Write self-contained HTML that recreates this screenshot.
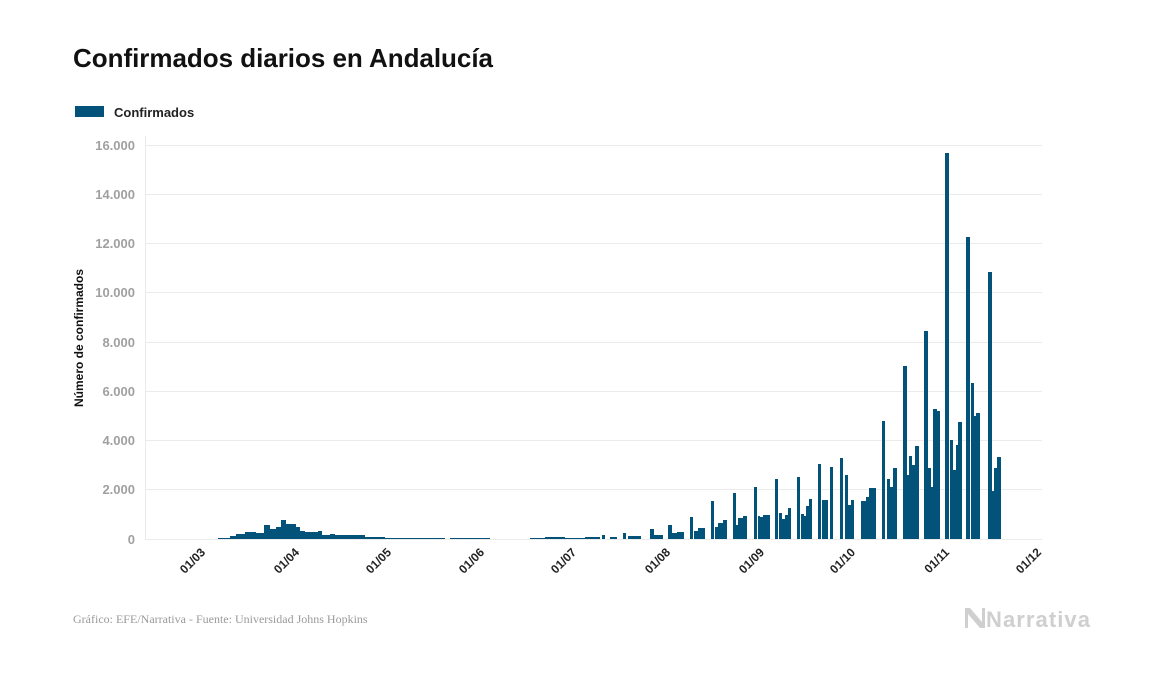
<!DOCTYPE html>
<html><head><meta charset="utf-8"><style>
html,body{margin:0;padding:0;background:#fff;}
svg{display:block;font-family:"Liberation Sans",sans-serif;}
</style></head><body>
<svg width="1157" height="674" viewBox="0 0 1157 674" xmlns="http://www.w3.org/2000/svg">
<text x="73" y="67" font-size="26" font-weight="bold" fill="#111" textLength="420">Confirmados diarios en Andalucía</text>
<rect x="75" y="106" width="29" height="11" fill="#02527a"/>
<text x="114" y="117" font-size="13" font-weight="bold" fill="#222">Confirmados</text>
<g stroke="#ebebeb" stroke-width="1">
<line x1="145" x2="1042" y1="145.5" y2="145.5"/><line x1="145" x2="1042" y1="194.5" y2="194.5"/>
<line x1="145" x2="1042" y1="243.5" y2="243.5"/><line x1="145" x2="1042" y1="292.5" y2="292.5"/>
<line x1="145" x2="1042" y1="342.5" y2="342.5"/><line x1="145" x2="1042" y1="391.5" y2="391.5"/>
<line x1="145" x2="1042" y1="440.5" y2="440.5"/><line x1="145" x2="1042" y1="489.5" y2="489.5"/>
<line x1="145" x2="1042" y1="539.5" y2="539.5"/><line x1="145.5" x2="145.5" y1="136" y2="539"/>
</g>
<g font-size="13" font-weight="bold" fill="#a0a0a0" text-anchor="end">
<text x="135" y="150">16.000</text><text x="135" y="199">14.000</text><text x="135" y="248">12.000</text>
<text x="135" y="297">10.000</text><text x="135" y="347">8.000</text><text x="135" y="396">6.000</text>
<text x="135" y="445">4.000</text><text x="135" y="494">2.000</text><text x="135" y="544">0</text>
</g>
<text transform="translate(83,338) rotate(-90)" font-size="12" font-weight="bold" fill="#111" text-anchor="middle">Número de confirmados</text>
<g fill="#02527a">
<rect x="218" y="538" width="12" height="1"/>
<rect x="230" y="536" width="6" height="3"/>
<rect x="236" y="534" width="9" height="5"/>
<rect x="245" y="532" width="7" height="7"/>
<rect x="252" y="532" width="4" height="7"/>
<rect x="256" y="533" width="8" height="6"/>
<rect x="264" y="525" width="6" height="14"/>
<rect x="270" y="529" width="6" height="10"/>
<rect x="276" y="527" width="5" height="12"/>
<rect x="281" y="520" width="5" height="19"/>
<rect x="286" y="524" width="10" height="15"/>
<rect x="296" y="527" width="4" height="12"/>
<rect x="300" y="531" width="5" height="8"/>
<rect x="305" y="532" width="13" height="7"/>
<rect x="318" y="531" width="4" height="8"/>
<rect x="322" y="535" width="8" height="4"/>
<rect x="330" y="534" width="5" height="5"/>
<rect x="335" y="535" width="30" height="4"/>
<rect x="365" y="537" width="20" height="2"/>
<rect x="385" y="538" width="60" height="1"/>
<rect x="450" y="538" width="40" height="1"/>
<rect x="530" y="538" width="70" height="1"/>
<rect x="545" y="537" width="20" height="2"/>
<rect x="585" y="537" width="15" height="2"/>
<rect x="602" y="535" width="3" height="4"/><rect x="610" y="537" width="7" height="2"/>
<rect x="623" y="533" width="3" height="6"/><rect x="628" y="536" width="13" height="3"/>
<rect x="650" y="529" width="4" height="10"/><rect x="654" y="535" width="9" height="4"/>
<rect x="668" y="525" width="4" height="14"/><rect x="672" y="533" width="5" height="6"/><rect x="677" y="532" width="7" height="7"/>
<rect x="690" y="517" width="3" height="22"/><rect x="694" y="531" width="4" height="8"/><rect x="698" y="528" width="7" height="11"/>
<rect x="711" y="501" width="3" height="38"/><rect x="715" y="527" width="3" height="12"/><rect x="718" y="523" width="5" height="16"/><rect x="723" y="520" width="4" height="19"/>
<rect x="733" y="493" width="3" height="46"/><rect x="736" y="525" width="2" height="14"/><rect x="738" y="518" width="5" height="21"/><rect x="743" y="516" width="4" height="23"/>
<rect x="754" y="487" width="3" height="52"/><rect x="758" y="516" width="2" height="23"/><rect x="760" y="517" width="3" height="22"/><rect x="763" y="515" width="7" height="24"/>
<rect x="775" y="479" width="3" height="60"/><rect x="779" y="513" width="3" height="26"/><rect x="782" y="519" width="3" height="20"/><rect x="785" y="515" width="3" height="24"/><rect x="788" y="508" width="3" height="31"/>
<rect x="797" y="477" width="3" height="62"/><rect x="801" y="514" width="3" height="25"/><rect x="804" y="516" width="2" height="23"/><rect x="806" y="506" width="3" height="33"/><rect x="809" y="499" width="3" height="40"/>
<rect x="818" y="464" width="3" height="75"/><rect x="822" y="500" width="6" height="39"/>
<rect x="830" y="467" width="3" height="72"/>
<rect x="840" y="458" width="3" height="81"/><rect x="845" y="475" width="3" height="64"/><rect x="848" y="505" width="3" height="34"/><rect x="851" y="500" width="3" height="39"/>
<rect x="861" y="501" width="5" height="38"/><rect x="866" y="497" width="3" height="42"/><rect x="869" y="488" width="3" height="51"/><rect x="872" y="488" width="4" height="51"/>
<rect x="882" y="421" width="3" height="118"/>
<rect x="887" y="479" width="3" height="60"/><rect x="890" y="487" width="3" height="52"/><rect x="893" y="468" width="4" height="71"/>
<rect x="903" y="366" width="4" height="173"/><rect x="907" y="475" width="2" height="64"/><rect x="909" y="456" width="3" height="83"/><rect x="912" y="465" width="3" height="74"/><rect x="915" y="446" width="4" height="93"/>
<rect x="924" y="331" width="4" height="208"/><rect x="928" y="468" width="3" height="71"/><rect x="931" y="487" width="2" height="52"/><rect x="933" y="409" width="4" height="130"/><rect x="937" y="411" width="3" height="128"/>
<rect x="945" y="153" width="4" height="386"/><rect x="950" y="440" width="3" height="99"/><rect x="953" y="470" width="3" height="69"/><rect x="956" y="445" width="2" height="94"/><rect x="958" y="422" width="4" height="117"/>
<rect x="966" y="237" width="4" height="302"/><rect x="971" y="383" width="3" height="156"/><rect x="974" y="416" width="2" height="123"/><rect x="976" y="413" width="4" height="126"/>
<rect x="988" y="272" width="4" height="267"/><rect x="992" y="491" width="2" height="48"/><rect x="994" y="468" width="3" height="71"/><rect x="997" y="457" width="4" height="82"/>
</g>
<g font-size="12" font-weight="bold" fill="#222" text-anchor="end">
<text transform="translate(206,553) rotate(-45)">01/03</text>
<text transform="translate(300,553) rotate(-45)">01/04</text>
<text transform="translate(392,553) rotate(-45)">01/05</text>
<text transform="translate(485,553) rotate(-45)">01/06</text>
<text transform="translate(577,553) rotate(-45)">01/07</text>
<text transform="translate(671,553) rotate(-45)">01/08</text>
<text transform="translate(765,553) rotate(-45)">01/09</text>
<text transform="translate(856,553) rotate(-45)">01/10</text>
<text transform="translate(950,553) rotate(-45)">01/11</text>
<text transform="translate(1042,553) rotate(-45)">01/12</text>
</g>
<text x="73" y="623" font-size="12" fill="#9a9a9a" font-family="Liberation Serif,serif">Gráfico: EFE/Narrativa - Fuente: Universidad Johns Hopkins</text>
<polygon points="965,608 970,608 982,622 982,608 985,608 985,628 980,628 968,614 968,628 965,628" fill="#cfcfcf"/>
<text x="986" y="627" font-size="22" font-weight="bold" fill="#cfcfcf" textLength="104">Narrativa</text>
</svg>
</body></html>
